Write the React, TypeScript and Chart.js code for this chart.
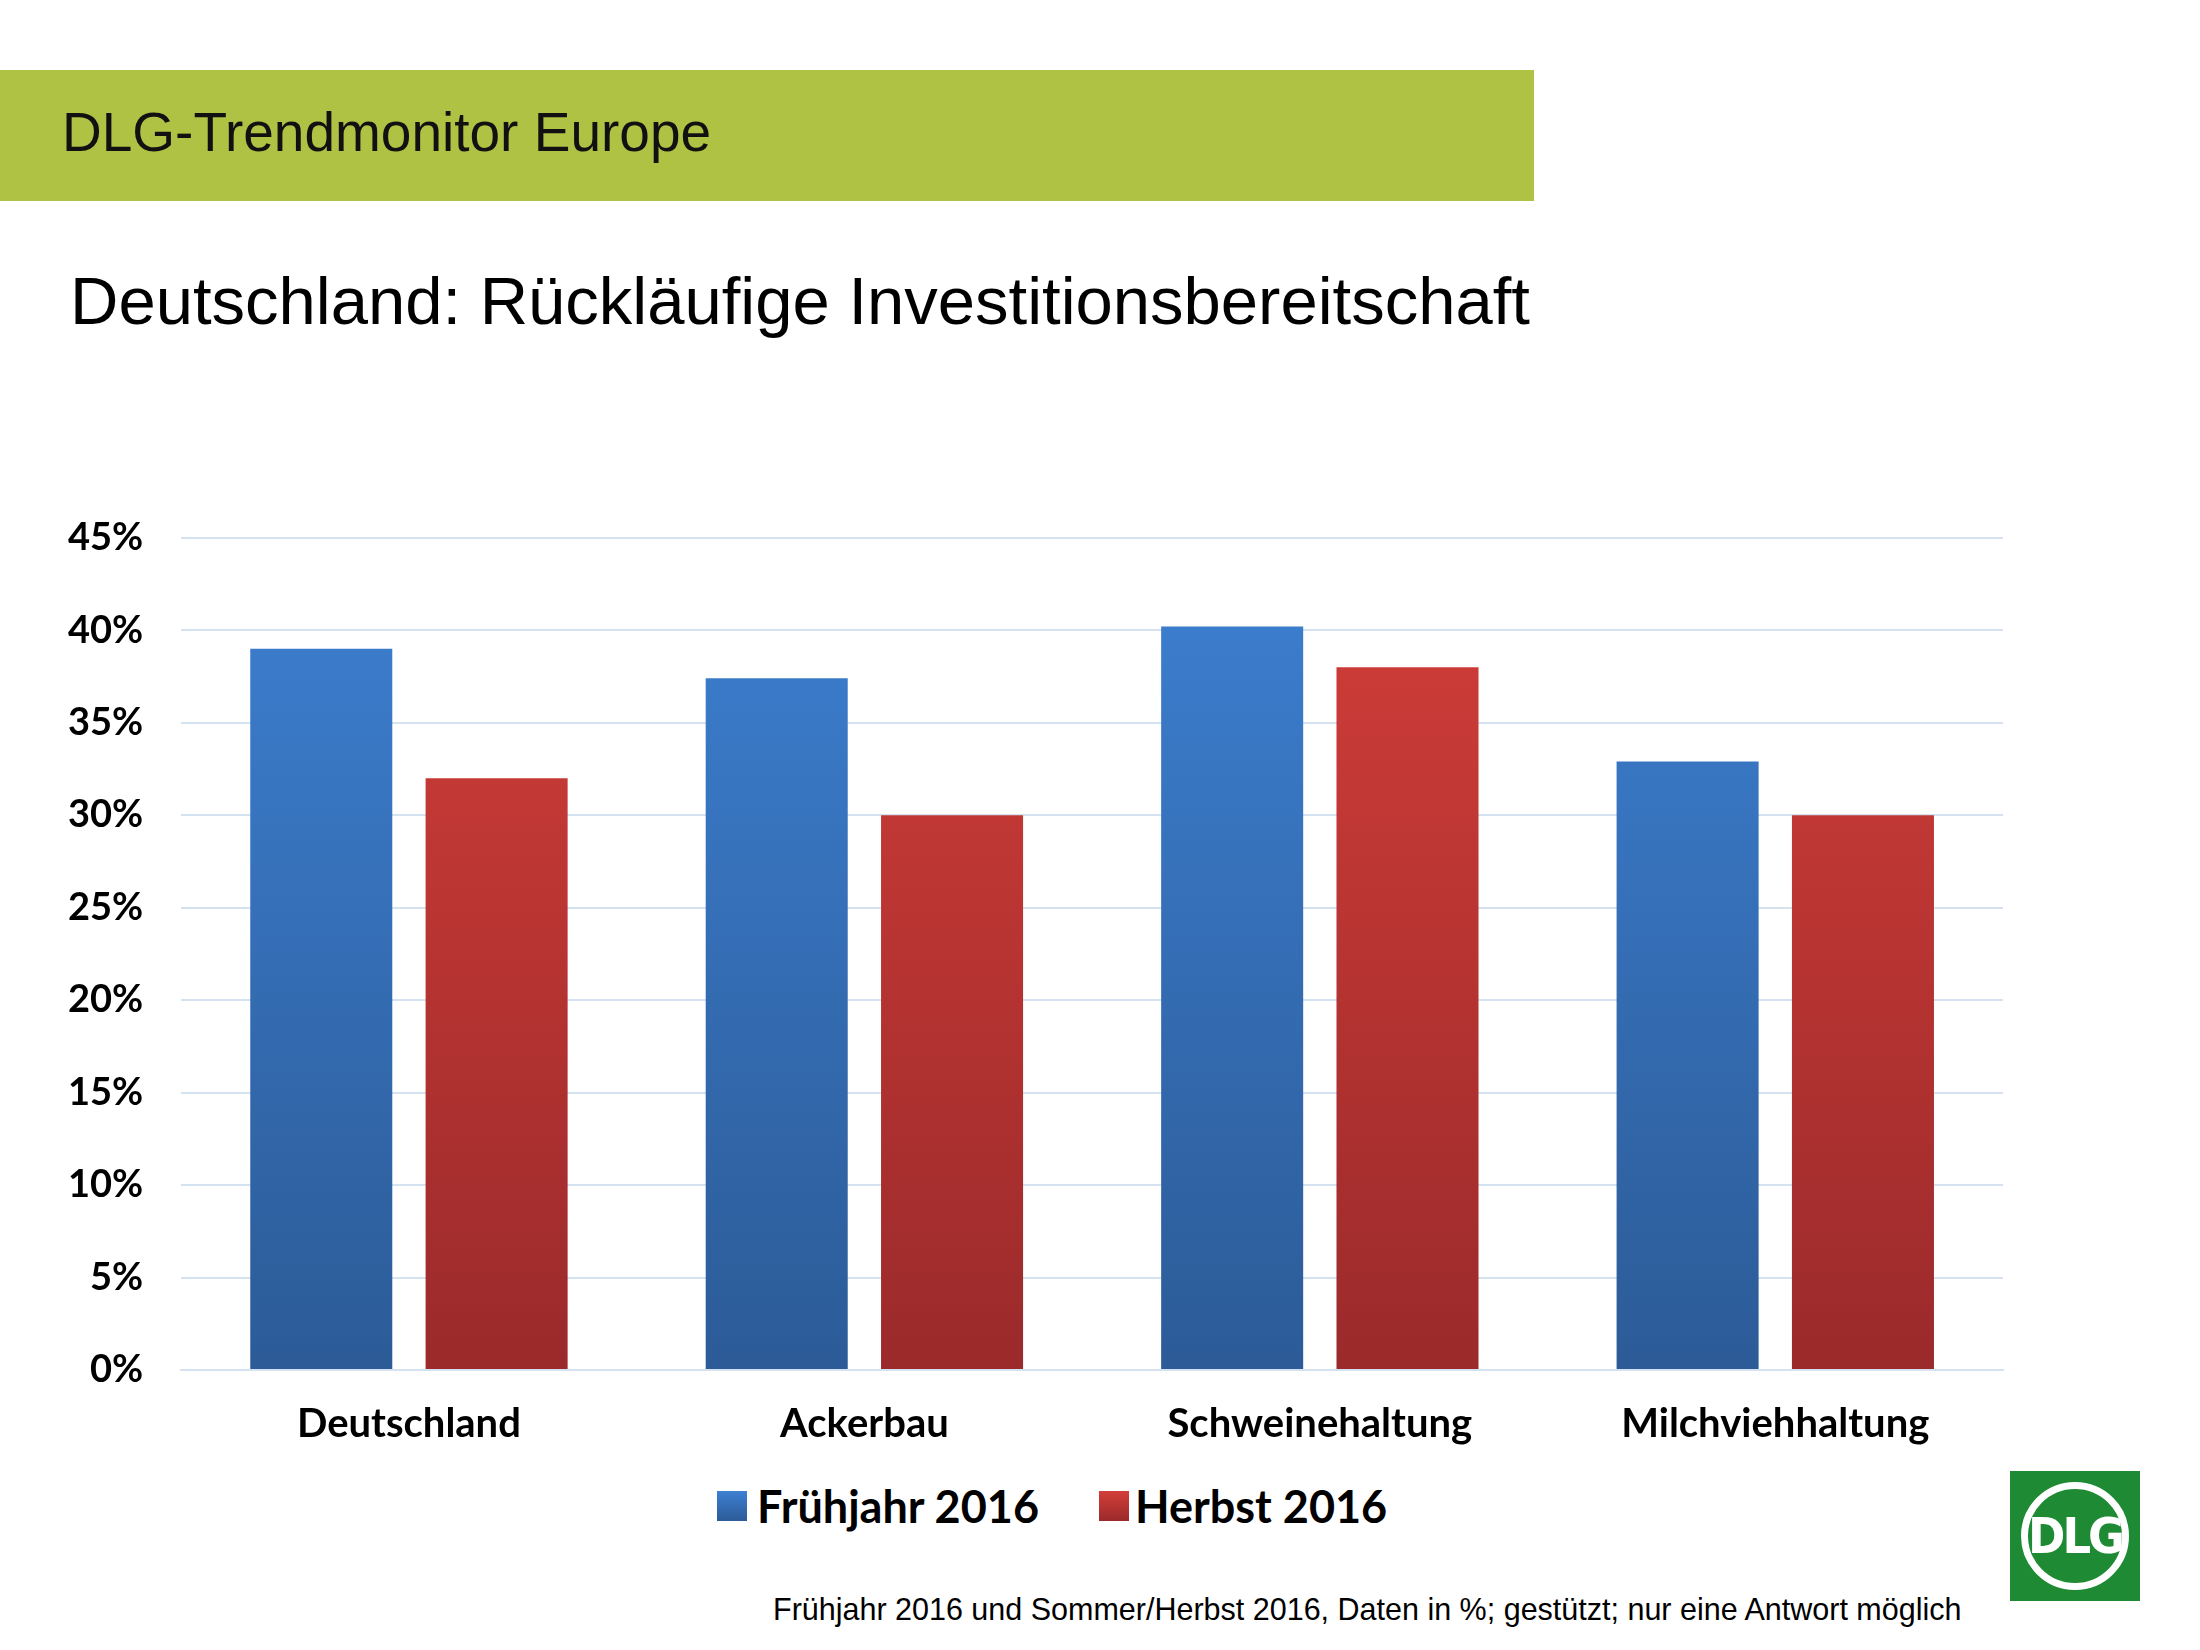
import React, { useEffect, useRef } from "react";
import { Chart, registerables } from "chart.js";
Chart.register(...registerables);

const categories = ["Deutschland", "Ackerbau", "Schweinehaltung", "Milchviehhaltung"];
const fruehjahr = [39, 37.4, 40.2, 32.9];
const herbst = [32, 30, 38, 30];
const seriesNames = ["Frühjahr 2016", "Herbst 2016"];

const FONT = "Lato, 'Open Sans', sans-serif";

function grad(ctx: any, top: string, bottom: string) {
  const c = ctx.chart;
  const a = c.chartArea;
  if (!a) return top;
  const g = c.ctx.createLinearGradient(0, a.top, 0, a.bottom);
  g.addColorStop(0, top);
  g.addColorStop(1, bottom);
  return g;
}

export default function App() {
  const ref = useRef<HTMLCanvasElement>(null);
  useEffect(() => {
    const chart = new Chart(ref.current!, {
      type: "bar",
      data: {
        labels: categories,
        datasets: [
          { label: seriesNames[0], data: fruehjahr, backgroundColor: (c: any) => grad(c, "#3d80d2", "#2c5b97"), categoryPercentage: 0.77, barPercentage: 0.81 },
          { label: seriesNames[1], data: herbst, backgroundColor: (c: any) => grad(c, "#d33e39", "#9b2a2b"), categoryPercentage: 0.77, barPercentage: 0.81 },
        ],
      },
      options: {
        animation: false,
        responsive: false,
        maintainAspectRatio: false,
        layout: { padding: { left: 30, right: 197, top: 20, bottom: 0 } },
        scales: {
          y: {
            min: 0, max: 45,
            ticks: { stepSize: 5, callback: (v: any) => v + "%", color: "#000", font: { family: FONT, size: 38, weight: "bold" }, padding: 38 },
            grid: { color: "#d5e2f0", lineWidth: 2, drawTicks: false },
            border: { display: false },
          },
          x: {
            ticks: { color: "#000", font: { family: FONT, size: 40, weight: "bold" }, padding: 22 },
            grid: { display: false },
            border: { color: "#d5e2f0", width: 2 },
          },
        },
        plugins: { tooltip: { enabled: false }, legend: { display: false } },
      },
    });
    return () => chart.destroy();
  }, []);

  const legendText = { position: "absolute" as const, top: 1478, fontFamily: FONT, fontWeight: "bold" as const, fontSize: 45, color: "#000", lineHeight: "56px" };
  const box = (bg: string, left: number) => ({ position: "absolute" as const, left, top: 1491, width: 30, height: 30, background: bg });

  return (
    <div style={{ position: "fixed", left: 0, top: 0, width: 2200, height: 1650, background: "#fff", fontFamily: "'Liberation Sans', Arial, sans-serif" }}>
      <div style={{ position: "absolute", left: 0, top: 70, width: 1534, height: 131, background: "#b0c244" }}>
        <div style={{ position: "absolute", left: 62, top: 30, fontSize: 55, color: "#111" }}>DLG-Trendmonitor Europe</div>
      </div>
      <div style={{ position: "absolute", left: 70, top: 262, fontSize: 67, color: "#000" }}>Deutschland: Rückläufige Investitionsbereitschaft</div>
      <canvas ref={ref} width={2200} height={993} style={{ position: "absolute", left: 0, top: 477, width: 2200, height: 993 }} />
      <div style={box("linear-gradient(#3d80d2,#2c5b97)", 717)} />
      <div style={{ ...legendText, left: 757 }}>{seriesNames[0]}</div>
      <div style={box("linear-gradient(#d33e39,#9b2a2b)", 1099)} />
      <div style={{ ...legendText, left: 1135 }}>{seriesNames[1]}</div>
      <div style={{ position: "absolute", left: 773, top: 1592, fontSize: 30.5, color: "#000" }}>Frühjahr 2016 und Sommer/Herbst 2016, Daten in %; gestützt; nur eine Antwort möglich</div>
      <div style={{ position: "absolute", left: 2010, top: 1471, width: 130, height: 130, background: "#1e8a33", display: "flex", alignItems: "center", justifyContent: "center" }}>
        <div style={{ width: 108, height: 108, borderRadius: "50%", border: "7px solid #fff", boxSizing: "border-box", display: "flex", alignItems: "center", justifyContent: "center", color: "#fff", fontWeight: "bold", fontSize: 50, fontFamily: "'DejaVu Sans Condensed', sans-serif", letterSpacing: -3 }}>DLG</div>
      </div>
    </div>
  );
}
